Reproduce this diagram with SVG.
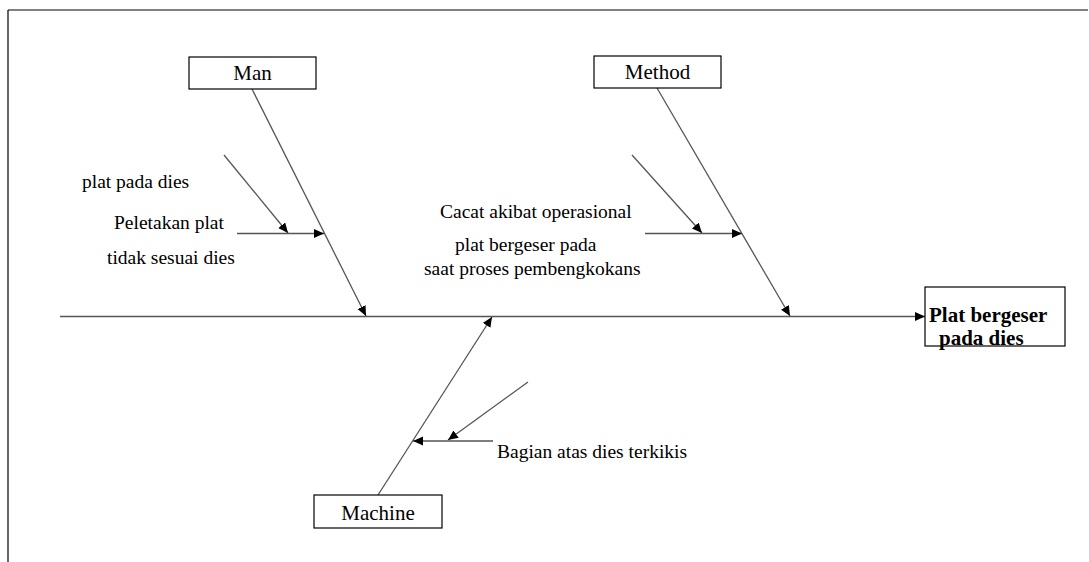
<svg xmlns="http://www.w3.org/2000/svg" width="1089" height="562" viewBox="0 0 1089 562">
<style>
.ln{stroke:#555;stroke-width:1.3;fill:none}
.box{fill:#fff;stroke:#000;stroke-width:1.2}
.t{font-family:"Liberation Serif","Times New Roman",serif;font-size:19.5px;fill:#000}
.lbl{font-family:"Liberation Serif","Times New Roman",serif;font-size:21px;fill:#000;text-anchor:middle}
.eff{font-family:"Liberation Serif","Times New Roman",serif;font-size:21px;font-weight:bold;fill:#000}
</style>
<defs>
<marker id="ah" markerUnits="userSpaceOnUse" markerWidth="11" markerHeight="10" refX="10" refY="4.5" orient="auto">
<path d="M0,0 L10,4.5 L0,9 z" fill="#000"/>
</marker>
</defs>
<rect width="1089" height="562" fill="#fff"/>
<g id="frame">
<line x1="8" y1="10" x2="1088" y2="10" stroke="#000" stroke-width="1.2"/>
<line x1="8" y1="10" x2="8" y2="562" stroke="#000" stroke-width="1.2"/>
</g>
<g id="connectors">
<line class="ln" x1="60" y1="316.5" x2="925" y2="316.5" marker-end="url(#ah)"/>
<line class="ln" x1="252" y1="89" x2="366" y2="316" marker-end="url(#ah)"/>
<line class="ln" x1="224" y1="155" x2="288" y2="233" marker-end="url(#ah)"/>
<line class="ln" x1="237" y1="233.5" x2="324" y2="233.5" marker-end="url(#ah)"/>
<line class="ln" x1="657" y1="88" x2="790" y2="316" marker-end="url(#ah)"/>
<line class="ln" x1="632" y1="155" x2="702" y2="233" marker-end="url(#ah)"/>
<line class="ln" x1="645" y1="233.5" x2="742" y2="233.5" marker-end="url(#ah)"/>
<line class="ln" x1="378" y1="495" x2="492" y2="317" marker-end="url(#ah)"/>
<line class="ln" x1="528" y1="382" x2="448" y2="440" marker-end="url(#ah)"/>
<line class="ln" x1="493" y1="441" x2="413" y2="441" marker-end="url(#ah)"/>
</g>
<g id="man">
<rect class="box" x="189" y="57" width="127" height="32"/>
<text class="lbl" x="252.5" y="80">Man</text>
</g>
<g id="method">
<rect class="box" x="594" y="56" width="127" height="32"/>
<text class="lbl" x="657.5" y="79">Method</text>
</g>
<g id="machine">
<rect class="box" x="314" y="495" width="128" height="33"/>
<text class="lbl" x="378" y="520">Machine</text>
</g>
<g id="effect">
<rect class="box" x="925" y="287" width="140" height="59"/>
<text class="eff" x="929" y="322">Plat bergeser</text>
<text class="eff" x="939" y="345">pada dies</text>
</g>
<g id="man-causes">
<text class="t" x="82" y="188">plat pada dies</text>
<text class="t" x="114" y="229">Peletakan plat</text>
<text class="t" x="107" y="264">tidak sesuai dies</text>
</g>
<g id="method-causes">
<text class="t" x="440" y="218">Cacat akibat operasional</text>
<text class="t" x="455" y="251">plat bergeser pada</text>
<text class="t" x="424" y="275">saat proses pembengkokans</text>
</g>
<g id="machine-causes">
<text class="t" x="497" y="458">Bagian atas dies terkikis</text>
</g>
</svg>
